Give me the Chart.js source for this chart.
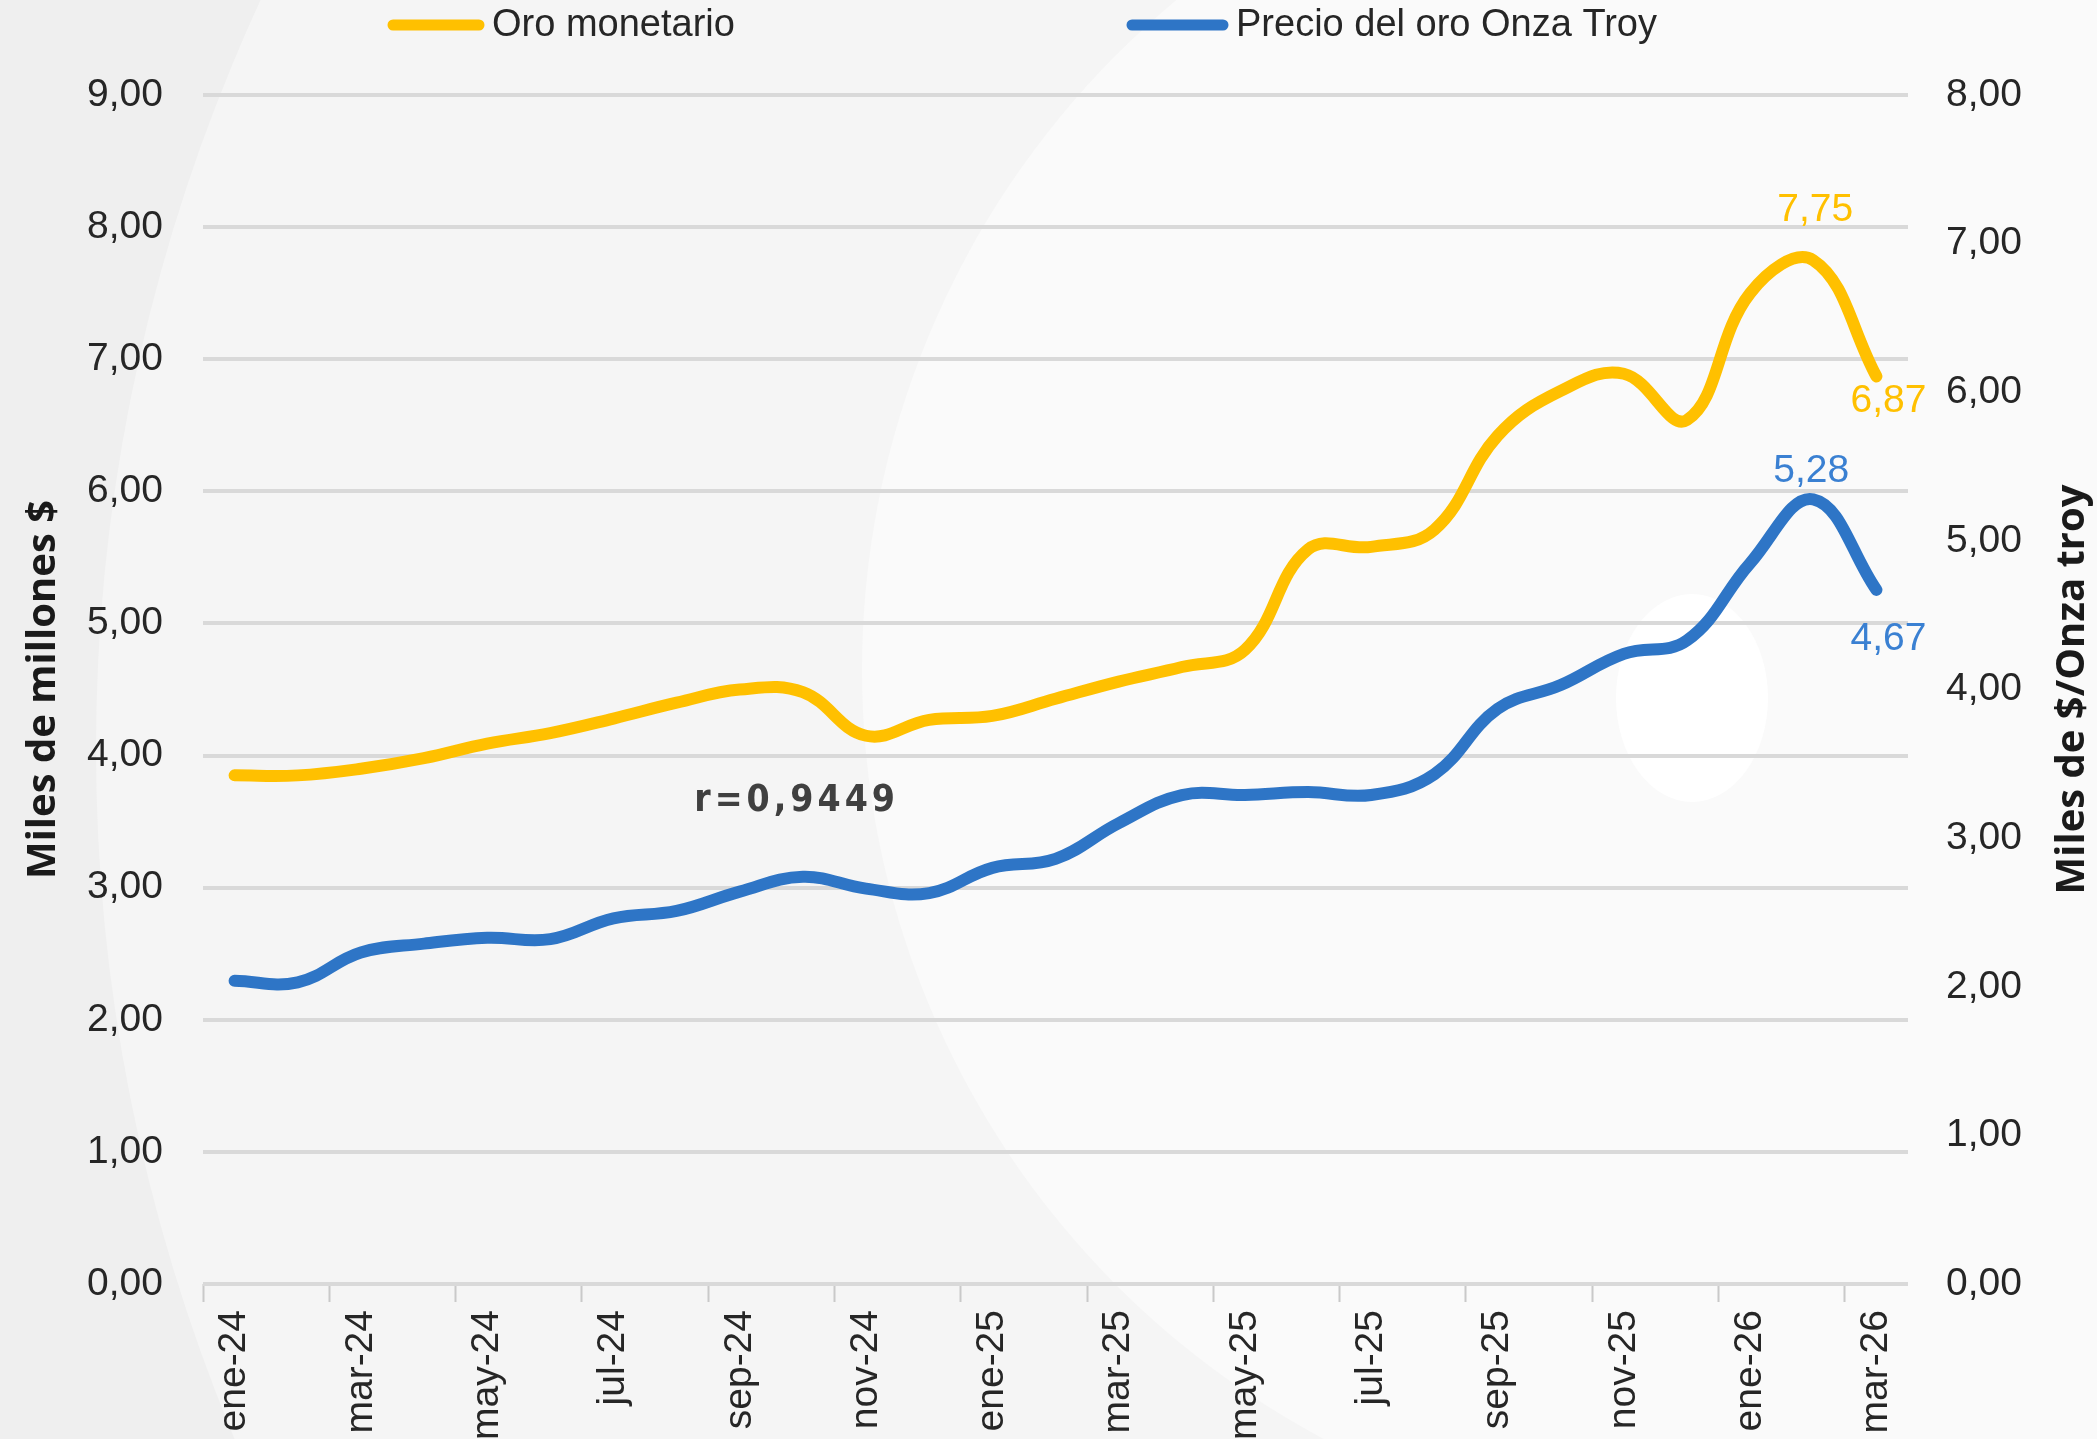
<!DOCTYPE html>
<html>
<head>
<meta charset="utf-8">
<script src="https://cdn.jsdelivr.net/npm/chart.js@4.4.1/dist/chart.umd.min.js"></script>
<style>
  html, body { margin: 0; padding: 0; background: #f5f5f5; overflow: hidden; }
  canvas { display: block; }
</style>
</head>
<body>
<canvas id="myChart" width="2097" height="1439"></canvas>
<script>
// data (miles de millones $ / miles de $ por onza)
var labels = ['ene-24','feb-24','mar-24','abr-24','may-24','jun-24','jul-24','ago-24','sep-24','oct-24','nov-24','dic-24',
              'ene-25','feb-25','mar-25','abr-25','may-25','jun-25','jul-25','ago-25','sep-25','oct-25','nov-25','dic-25',
              'ene-26','feb-26','mar-26'];
var oroMonetario = [3.85, 3.85, 3.90, 3.98, 4.09, 4.17, 4.28, 4.40, 4.50, 4.48, 4.15, 4.27,
                    4.30, 4.43, 4.56, 4.67, 4.80, 5.56, 5.58, 5.71, 6.42, 6.76, 6.89, 6.54,
                    7.50, 7.75, 6.87];
var precioOnza = [2.04, 2.03, 2.23, 2.29, 2.33, 2.32, 2.46, 2.51, 2.64, 2.74, 2.66, 2.63,
                  2.80, 2.86, 3.10, 3.29, 3.29, 3.31, 3.29, 3.43, 3.87, 4.03, 4.24, 4.33,
                  4.85, 5.28, 4.67];
var leftTicks = [0, 1, 2, 3, 4, 5, 6, 7, 8, 9];
var rightTicks = [0, 1, 2, 3, 4, 5, 6, 7, 8];
var corrText = 'r=0,9449';

var YELLOW = '#FFC000';
var BLUE = '#2E75C6';
var tickFont = { family: 'Liberation Sans, Arial, sans-serif', size: 39 };
var fmt = function (v) { return v.toFixed(2).replace('.', ','); };

// labels shown next to points: dataset, index, offset from the point
var pointLabels = [
  { ds: 0, idx: 25, dx: 2, dy: -50, color: YELLOW },
  { ds: 0, idx: 26, dx: 12, dy: 25, color: YELLOW },
  { ds: 1, idx: 25, dx: -2, dy: -28, color: '#3A80D2' },
  { ds: 1, idx: 26, dx: 12, dy: 49, color: '#3A80D2' }
];

// background shapes
var backdrop = {
  id: 'backdrop',
  beforeDraw: function (chart) {
    var ctx = chart.ctx;
    ctx.save();
    ctx.fillStyle = '#efefef';
    ctx.fillRect(0, 0, chart.width, chart.height);
    ctx.fillStyle = '#f5f5f5';
    ctx.beginPath(); ctx.arc(1883, 749, 1787, 0, Math.PI * 2); ctx.fill();
    ctx.fillStyle = '#fafafa';
    ctx.beginPath(); ctx.arc(1733, 670, 871, 0, Math.PI * 2); ctx.fill();
    ctx.fillStyle = '#ffffff';
    ctx.beginPath(); ctx.ellipse(1692, 698, 76, 104, 0, 0, Math.PI * 2); ctx.fill();
    ctx.restore();
  }
};

// legend, right axis title, value labels, r annotation
var extras = {
  id: 'extras',
  afterDraw: function (chart) {
    var ctx = chart.ctx;
    var ds = chart.data.datasets;
    ctx.save();

    // legend
    var items = [ { x0: 393, x1: 479, tx: 492 }, { x0: 1132, x1: 1223, tx: 1236 } ];
    ctx.font = '38px Liberation Sans, Arial, sans-serif';
    ctx.textBaseline = 'middle';
    items.forEach(function (it, i) {
      ctx.strokeStyle = ds[i].borderColor;
      ctx.lineWidth = 11;
      ctx.lineCap = 'round';
      ctx.beginPath(); ctx.moveTo(it.x0, 25); ctx.lineTo(it.x1, 25); ctx.stroke();
      ctx.fillStyle = '#262626';
      ctx.textAlign = 'left';
      ctx.fillText(ds[i].label, it.tx, 26);
    });

    // right axis title
    var yR = chart.scales.y1;
    ctx.save();
    ctx.translate(2073, (yR.top + yR.bottom) / 2);
    ctx.rotate(-Math.PI / 2);
    ctx.font = 'bold 40px Open Sans, Liberation Sans, sans-serif';
    ctx.fillStyle = '#1a1a1a';
    ctx.textAlign = 'center';
    ctx.fillText('Miles de $/Onza troy', 0, 0);
    ctx.restore();

    // point labels
    ctx.font = '39px Liberation Sans, Arial, sans-serif';
    ctx.textAlign = 'center';
    pointLabels.forEach(function (pl) {
      var pt = chart.getDatasetMeta(pl.ds).data[pl.idx];
      ctx.fillStyle = pl.color;
      ctx.fillText(fmt(ds[pl.ds].data[pl.idx]), pt.x + pl.dx, pt.y + pl.dy);
    });

    // correlation note
    var xs = chart.scales.x, yl = chart.scales.y;
    ctx.font = 'bold 37px DejaVu Sans Condensed, Roboto, sans-serif';
    ctx.letterSpacing = '4px';
    ctx.fillStyle = '#404040';
    ctx.fillText(corrText, xs.getPixelForValue(8.9), yl.getPixelForValue(3.65));
    ctx.restore();
  }
};

var myChart = new Chart(document.getElementById('myChart'), {
  type: 'line',
  data: {
    labels: labels,
    datasets: [
      {
        label: 'Oro monetario',
        data: oroMonetario,
        yAxisID: 'y',
        borderColor: YELLOW,
        backgroundColor: YELLOW,
        borderWidth: 12,
        borderCapStyle: 'round',
        borderJoinStyle: 'round',
        tension: 0.4,
        fill: false,
        pointRadius: 0
      },
      {
        label: 'Precio del oro Onza Troy',
        data: precioOnza,
        yAxisID: 'y1',
        borderColor: BLUE,
        backgroundColor: BLUE,
        borderWidth: 12,
        borderCapStyle: 'round',
        borderJoinStyle: 'round',
        tension: 0.4,
        fill: false,
        pointRadius: 0
      }
    ]
  },
  options: {
    responsive: false,
    animation: false,
    devicePixelRatio: 1,
    layout: { padding: { top: 95, left: 0, right: 0, bottom: 0 } },
    plugins: {
      legend: { display: false },
      tooltip: { enabled: false }
    },
    scales: {
      x: {
        type: 'category',
        offset: true,
        grid: {
          offset: true,
          drawOnChartArea: false,
          drawTicks: true,
          tickLength: 18,
          tickWidth: 2,
          tickColor: function (c) { return c.index % 2 === 0 ? '#c9c9c9' : 'rgba(0,0,0,0)'; }
        },
        border: { display: false },
        ticks: {
          autoSkip: false,
          maxRotation: 90,
          minRotation: 90,
          padding: 8,
          font: tickFont,
          color: '#262626',
          callback: function (v, i) { return i % 2 === 0 ? this.getLabelForValue(v) : ''; }
        },
        afterFit: function (s) { s.height = 155; }
      },
      y: {
        position: 'left',
        min: 0,
        max: 9,
        afterBuildTicks: function (s) { s.ticks = leftTicks.map(function (v) { return { value: v }; }); },
        grid: { color: '#d9d9d9', lineWidth: 4, drawTicks: false },
        border: { display: false },
        ticks: { padding: 40, font: tickFont, color: '#262626', callback: fmt },
        title: {
          display: true,
          text: 'Miles de millones $',
          color: '#1a1a1a',
          font: { family: 'Open Sans, Liberation Sans, sans-serif', size: 40, weight: 'bold' },
          padding: { top: 20, bottom: 0 }
        },
        afterFit: function (s) { s.width = 203; }
      },
      y1: {
        position: 'right',
        min: 0,
        max: 8,
        afterBuildTicks: function (s) { s.ticks = rightTicks.map(function (v) { return { value: v }; }); },
        grid: { drawOnChartArea: false, drawTicks: false },
        border: { display: false },
        ticks: { padding: 38, font: tickFont, color: '#262626', callback: fmt },
        afterFit: function (s) { s.width = 189; }
      }
    }
  },
  plugins: [backdrop, extras]
});
</script>
</body>
</html>
